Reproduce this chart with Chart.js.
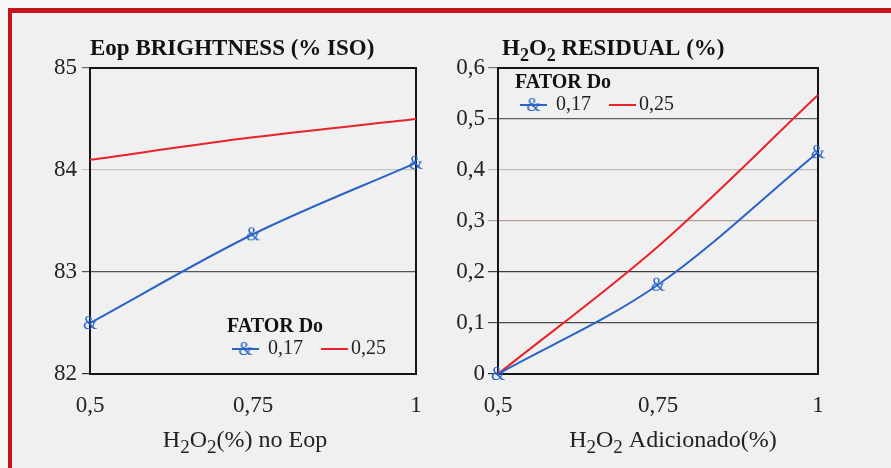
<!DOCTYPE html>
<html>
<head>
<meta charset="utf-8">
<script src="https://cdn.jsdelivr.net/npm/chart.js@4.4.1/dist/chart.umd.min.js"></script>
<style>
  html, body { margin: 0; padding: 0; width: 891px; height: 468px; overflow: hidden; background: #f6f6f6; }
  #frame { position: absolute; left: 8px; top: 8px; width: 883px; height: 460px; box-sizing: border-box;
           border-left: 4px solid #c8141c; border-top: 5px solid #c8141c; background: #f0f0f0; }
  .panel { position: absolute; top: 13px; height: 455px; }
  #p1 { left: 12px; width: 433px; }
  #p2 { left: 445px; width: 443px; }
</style>
</head>
<body>
<div id="frame"></div>
<div class="panel" id="p1"><canvas id="c1" width="433" height="455"></canvas></div>
<div class="panel" id="p2"><canvas id="c2" width="443" height="455"></canvas></div>
<script>
// H2O2 dose (%) on the x axis, shared by both panels
const doseX = [0.5, 0.75, 1];
const xTickLabels = ['0,5', '0,75', '1'];

// Eop brightness (% ISO) for each Do factor
const brightness017 = [82.5, 83.37, 84.07];
const brightness025 = [84.1, 84.32, 84.5];
const brightnessTicks = [82, 83, 84, 85];
const brightnessTickLabels = ['82', '83', '84', '85'];

// residual H2O2 (%) for each Do factor
const residual017 = [0, 0.175, 0.435];
const residual025 = [0, 0.25, 0.547];
const residualTicks = [0, 0.1, 0.2, 0.3, 0.4, 0.5, 0.6];
const residualTickLabels = ['0', '0,1', '0,2', '0,3', '0,4', '0,5', '0,6'];

// legend and titles ("_" marks a subscript character)
const seriesLabels = ['0,17', '0,25'];
const legendTitle = 'FATOR Do';
const leftTitle = 'Eop BRIGHTNESS (% ISO)';
const rightTitle = 'H_2O_2 RESIDUAL (%)';
const leftXTitle = 'H_2O_2(%) no Eop';
const rightXTitle = 'H_2O_2 Adicionado(%)';

const SERIF = "'Liberation Serif', 'Times New Roman', serif";
const BLUE = '#2a62c6';
const RED = '#e8232a';

// "&" glyph used as the point marker of the 0,17 series
function makeAmpMarker() {
  const c = document.createElement('canvas');
  c.width = 18; c.height = 20;
  const g = c.getContext('2d');
  g.fillStyle = BLUE;
  g.font = '18px ' + SERIF;
  g.textAlign = 'center';
  g.textBaseline = 'middle';
  g.fillText('&', 9, 11);
  return c;
}
const ampMarker = makeAmpMarker();

// split "H_2O_2 ..." into runs of normal and subscript text
function parseRuns(str) {
  const runs = [];
  for (let i = 0; i < str.length; i++) {
    if (str[i] === '_' && i + 1 < str.length) { runs.push({ t: str[i + 1], sub: true }); i++; }
    else if (runs.length && !runs[runs.length - 1].sub) runs[runs.length - 1].t += str[i];
    else runs.push({ t: str[i], sub: false });
  }
  return runs;
}
function runFont(weight, size, sub) { return weight + ' ' + (sub ? Math.round(size * 0.78) : size) + 'px ' + SERIF; }
function measureRuns(ctx, runs, weight, size) {
  let w = 0;
  runs.forEach(r => { ctx.font = runFont(weight, size, r.sub); w += ctx.measureText(r.t).width; });
  return w;
}
function drawRuns(ctx, str, x, y, weight, size, color, align) {
  const runs = parseRuns(str);
  const total = measureRuns(ctx, runs, weight, size);
  let cx = align === 'center' ? x - total / 2 : x;
  ctx.save();
  ctx.fillStyle = color;
  ctx.textAlign = 'left';
  ctx.textBaseline = 'alphabetic';
  runs.forEach(r => {
    ctx.font = runFont(weight, size, r.sub);
    ctx.fillText(r.t, cx, y + (r.sub ? size * 0.25 : 0));
    cx += ctx.measureText(r.t).width;
  });
  ctx.restore();
}

// plot frame, titles and the in-plot legend
const panelDecor = {
  id: 'panelDecor',
  beforeDatasetsDraw(chart, args, opts) {
    const a = chart.chartArea, ctx = chart.ctx;
    ctx.save();
    ctx.strokeStyle = '#151515';
    ctx.lineWidth = 2;
    ctx.strokeRect(a.left, a.top, a.right - a.left, a.bottom - a.top);
    ctx.restore();
  },
  afterDraw(chart, args, opts) {
    const a = chart.chartArea, ctx = chart.ctx;
    drawRuns(ctx, opts.title, a.left + opts.titleDx, a.top - 13, 'bold', 23, '#111', 'left');
    drawRuns(ctx, opts.xTitle, (a.left + a.right) / 2 + opts.xTitleDx, 434, 'normal', 24, '#222', 'center');

    // legend
    const lx = a.left + opts.legendDx;
    const ly = opts.legendFromBottom ? a.bottom - opts.legendDy : a.top + opts.legendDy;
    ctx.save();
    ctx.fillStyle = '#111';
    ctx.font = 'bold 20px ' + SERIF;
    ctx.textBaseline = 'middle';
    ctx.textAlign = 'left';
    ctx.fillText(legendTitle, lx, ly);
    const iy = ly + 22;
    let x = lx + 5;
    chart.data.datasets.forEach(ds => {
      ctx.strokeStyle = ds.borderColor;
      ctx.lineWidth = 2;
      ctx.beginPath();
      ctx.moveTo(x, iy);
      ctx.lineTo(x + 27, iy);
      ctx.stroke();
      if (ds.pointRadius > 0) ctx.drawImage(ampMarker, x + 13.5 - 9, iy - 10);
      ctx.fillStyle = '#222';
      ctx.font = '20px ' + SERIF;
      ctx.fillText(ds.label, x + (ds.pointRadius > 0 ? 36 : 30), iy);
      x += (ds.pointRadius > 0 ? 36 : 30) + ctx.measureText(ds.label).width + 18;
    });
    ctx.restore();
  }
};

function makeDatasets(blue, red) {
  return [
    { label: seriesLabels[0], data: doseX.map((x, i) => ({ x, y: blue[i] })),
      borderColor: BLUE, borderWidth: 2, pointStyle: ampMarker, pointRadius: 9,
      cubicInterpolationMode: 'monotone', clip: false },
    { label: seriesLabels[1], data: doseX.map((x, i) => ({ x, y: red[i] })),
      borderColor: RED, borderWidth: 2, pointRadius: 0,
      cubicInterpolationMode: 'monotone', clip: false }
  ];
}

function makeOptions(cfg) {
  return {
    responsive: false,
    animation: false,
    events: [],
    layout: { padding: { top: 55, right: cfg.padRight, left: 0, bottom: 0 } },
    plugins: {
      legend: { display: false },
      tooltip: { enabled: false },
      panelDecor: cfg.decor
    },
    scales: {
      x: {
        type: 'linear', min: 0.5, max: 1,
        afterBuildTicks: s => { s.ticks = doseX.map(v => ({ value: v })); },
        afterFit: s => { s.height = 94; },
        grid: { display: false },
        border: { display: false },
        ticks: { padding: 10, color: '#222', font: { family: SERIF, size: 23 },
                 maxRotation: 0, callback: (v, i) => xTickLabels[i] }
      },
      y: {
        min: cfg.yMin, max: cfg.yMax,
        afterBuildTicks: s => { s.ticks = cfg.ticks.map(v => ({ value: v })); },
        afterFit: s => { s.width = cfg.yWidth; },
        border: { display: false },
        grid: {
          color: c => cfg.gridColors[c.index] || '#555',
          lineWidth: 1.2,
          tickLength: cfg.tickLength,
          drawOnChartArea: true
        },
        ticks: { padding: cfg.tickPad, color: '#222', font: { family: SERIF, size: 23 },
                 callback: (v, i) => cfg.tickLabels[i] }
      }
    }
  };
}

new Chart(document.getElementById('c1'), {
  type: 'line',
  data: { datasets: makeDatasets(brightness017, brightness025) },
  options: makeOptions({
    padRight: 29, yWidth: 78, yMin: 82, yMax: 85, tickLength: 8, tickPad: 5,
    ticks: brightnessTicks, tickLabels: brightnessTickLabels,
    gridColors: ['#333', '#555', '#c4c4c4', '#666'],
    decor: { title: leftTitle, titleDx: 0, xTitle: leftXTitle, xTitleDx: -8,
             legendDx: 137, legendDy: 47, legendFromBottom: true }
  }),
  plugins: [panelDecor]
});

new Chart(document.getElementById('c2'), {
  type: 'line',
  data: { datasets: makeDatasets(residual017, residual025) },
  options: makeOptions({
    padRight: 70, yWidth: 53, yMin: 0, yMax: 0.6, tickLength: 10, tickPad: 3,
    ticks: residualTicks, tickLabels: residualTickLabels,
    gridColors: ['#333', '#4a4a4a', '#3c3c3c', '#b39e96', '#bcbcbc', '#606060', '#777'],
    decor: { title: rightTitle, titleDx: 4, xTitle: rightXTitle, xTitleDx: 15,
             legendDx: 17, legendDy: 15, legendFromBottom: false }
  }),
  plugins: [panelDecor]
});
</script>
</body>
</html>
